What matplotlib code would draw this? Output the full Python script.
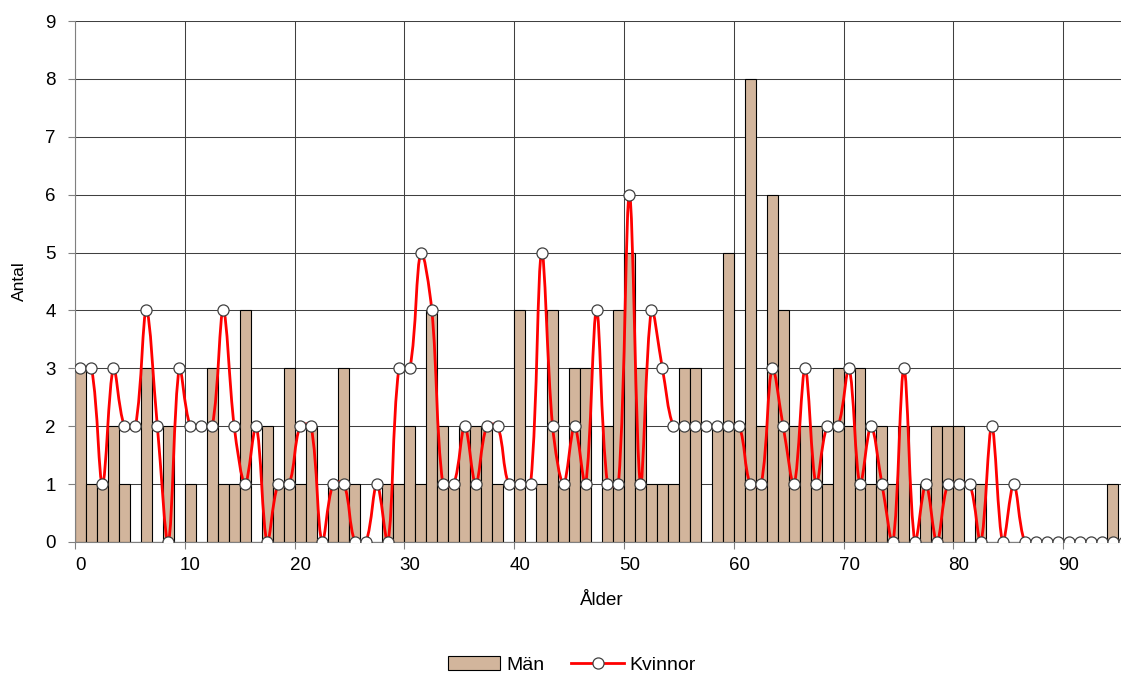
import numpy as np
import matplotlib
matplotlib.use("Agg")
import matplotlib.pyplot as plt
from matplotlib.path import Path
from matplotlib.patches import PathPatch
from matplotlib.lines import Line2D
from matplotlib.patches import Patch

plt.rcParams['font.family'] = ['Liberation Sans', 'DejaVu Sans']

ages = list(range(0, 96))
men = [3, 1, 1, 2, 1, 0, 3, 0, 2, 0,
       1, 0, 3, 1, 1, 4, 0, 2, 1, 3,
       1, 2, 0, 1, 3, 1, 0, 0, 1, 1,
       2, 1, 4, 2, 1, 2, 2, 2, 1, 0,
       4, 0, 1, 4, 1, 3, 3, 0, 2, 4,
       5, 3, 1, 1, 1, 3, 3, 0, 2, 5,
       2, 8, 2, 6, 4, 2, 2, 2, 1, 3,
       2, 3, 1, 2, 1, 2, 0, 1, 2, 2,
       2, 0, 1, 0, 0, 0, 0, 0, 0, 0,
       0, 0, 0, 0, 1, 0]
women = [3, 3, 1, 3, 2, 2, 4, 2, 0, 3,
         2, 2, 2, 4, 2, 1, 2, 0, 1, 1,
         2, 2, 0, 1, 1, 0, 0, 1, 0, 3,
         3, 5, 4, 1, 1, 2, 1, 2, 2, 1,
         1, 1, 5, 2, 1, 2, 1, 4, 1, 1,
         6, 1, 4, 3, 2, 2, 2, 2, 2, 2,
         2, 1, 1, 3, 2, 1, 3, 1, 2, 2,
         3, 1, 2, 1, 0, 3, 0, 1, 0, 1,
         1, 1, 0, 2, 0, 1, 0, 0, 0, 0,
         0, 0, 0, 0, 0, 0]
xtick_labels = ['0', '10', '20', '30', '40', '50', '60', '70', '80', '90']
series_names = ['Män', 'Kvinnor']

W, H = 1121, 673
fig = plt.figure(figsize=(W / 100, H / 100), dpi=100)
ax = fig.add_axes([75 / W, 131 / H, 1054 / W, 521 / H])

bar_color = '#D2B59C'
grid_color = '#404040'

ax.bar(ages, men, width=1.0, color=bar_color, edgecolor='black', linewidth=0.8, zorder=2)

ax.set_xlim(-0.5, 95.5)
ax.set_ylim(0, 9)

# Smoothed line: cubic Bezier through the data points, with tangents
# weighted by the on-screen segment lengths (spreadsheet-style smoothing)
x = np.asarray(ages, dtype=float)
y = np.asarray(women, dtype=float)
pts = np.column_stack([x, y])
disp = ax.transData.transform(pts)
n = len(pts)


def seglen(a, b):
    return float(np.hypot(*(disp[b] - disp[a])))


verts = [pts[0]]
codes = [Path.MOVETO]
f = 1.0 / 3.0
for i in range(n - 1):
    i0 = max(i - 1, 0)
    i3 = min(i + 2, n - 1)
    d01 = seglen(i0, i)
    d12 = seglen(i, i + 1)
    d23 = seglen(i + 1, i3)
    w1 = d12 / (d01 + d12) if (d01 + d12) > 0 else 0.5
    w2 = d12 / (d12 + d23) if (d12 + d23) > 0 else 0.5
    c1 = pts[i] + f * w1 * (pts[i + 1] - pts[i0])
    c2 = pts[i + 1] - f * w2 * (pts[i3] - pts[i])
    verts += [c1, c2, pts[i + 1]]
    codes += [Path.CURVE4] * 3
path = Path(verts, codes)
ax.add_patch(PathPatch(path, facecolor='none', edgecolor='#FF0000', linewidth=2.0,
                       zorder=3, capstyle='round', joinstyle='round'))
ax.plot(ages, women, linestyle='none', marker='o', markersize=8,
        markerfacecolor='white', markeredgecolor='#404040', markeredgewidth=0.9, zorder=4)

# x ticks: labels centered on categories, marks and gridlines between categories
ax.set_xticks(list(range(0, 91, 10)))
ax.set_xticklabels(xtick_labels)
ax.tick_params(axis='x', which='major', length=0, pad=11, labelsize=13.5)
ax.set_xticks([v - 0.5 for v in range(0, 100, 10)], minor=True)
ax.tick_params(axis='x', which='minor', length=5, color='#808080', width=0.8)
ax.grid(True, axis='x', which='minor', color=grid_color, linewidth=0.75)

ax.set_yticks(range(0, 10))
ax.tick_params(axis='y', length=5, color='#808080', width=0.8, pad=9, labelsize=13.5)
ax.grid(True, axis='y', which='major', color=grid_color, linewidth=0.75)
ax.set_axisbelow(True)

for s in ['top', 'right']:
    ax.spines[s].set_visible(False)
for s in ['left', 'bottom']:
    ax.spines[s].set_color('#808080')
    ax.spines[s].set_linewidth(0.8)

ax.set_xlabel('Ålder', fontsize=13.5, labelpad=12.5)
ax.set_ylabel('Antal', fontsize=12.5)
ax.yaxis.set_label_coords((27 - 75) / 1054, 0.5)

handles = [Patch(facecolor=bar_color, edgecolor='black', linewidth=0.8),
           Line2D([0], [0], color='#FF0000', linewidth=2.0, marker='o', markersize=8,
                  markerfacecolor='white', markeredgecolor='#404040', markeredgewidth=0.9)]
fig.legend(handles, series_names, loc='center', bbox_to_anchor=(572 / W, 1 - 665 / H),
           ncol=2, frameon=False, fontsize=14, handlelength=2.7, handletextpad=0.3,
           columnspacing=1.4)

fig.savefig('out.png', dpi=100)
